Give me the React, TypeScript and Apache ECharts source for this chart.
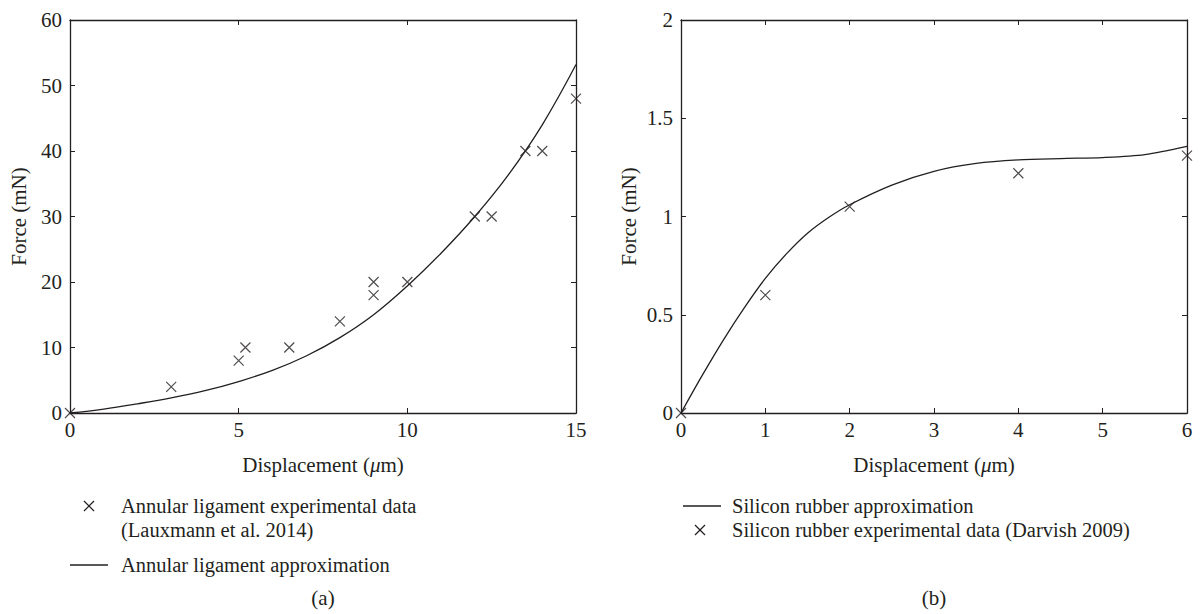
import React, { useEffect, useRef } from "react";
import * as echarts from "echarts";

// Panel (a): annular ligament
const ligamentExperimental: [number, number][] = [
  [0, 0], [3, 4], [5, 8], [5.2, 10], [6.5, 10], [8, 14], [9, 18], [9, 20],
  [10, 20], [12, 30], [12.5, 30], [13.5, 40], [14, 40], [15, 48],
];
const ligamentApproximation: [number, number][] = [
  [0, 0], [1, 0.6], [2, 1.4], [3, 2.3], [4, 3.4], [5, 4.8], [6, 6.5], [7, 8.7],
  [8, 11.5], [9, 15.0], [10, 19.4], [11, 24.4], [12, 30.0], [13, 36.4],
  [14, 44.0], [15, 53.2],
];

// Panel (b): silicon rubber
const rubberExperimental: [number, number][] = [
  [0, 0], [1, 0.6], [2, 1.05], [4, 1.22], [6, 1.31],
];
const rubberApproximation: [number, number][] = [
  [0, 0], [0.25, 0.19], [0.5, 0.37], [0.75, 0.535], [1, 0.685], [1.25, 0.81],
  [1.5, 0.915], [1.75, 0.995], [2, 1.06], [2.5, 1.16], [3, 1.23], [3.5, 1.27],
  [4, 1.288], [4.5, 1.295], [5, 1.30], [5.5, 1.315], [6, 1.357],
];

const xLabel = "Displacement";
const yLabel = "Force (mN)";
const legendA = [
  "Annular ligament experimental data",
  "(Lauxmann et al. 2014)",
  "Annular ligament approximation",
];
const legendB = [
  "Silicon rubber approximation",
  "Silicon rubber experimental data (Darvish 2009)",
];

const INK = "#231f20";
const FONT = "'Liberation Serif', 'DejaVu Serif', serif";
const FS = 21;
const LFS = 20.5;
const CROSS = "path://M0,0L10,10M10,0L0,10";

function App() {
  const ref = useRef<HTMLDivElement>(null);

  useEffect(() => {
    if (!ref.current) return;
    const chart = echarts.init(ref.current, null, { renderer: "svg" });

    const grids = [
      { left: 70, top: 20, width: 506, height: 393 },
      { left: 681, top: 20, width: 506, height: 393 },
    ];

    const tick = { show: true, inside: true, length: 5, lineStyle: { color: INK, width: 1 } };
    const line = { show: true, onZero: false, lineStyle: { color: INK, width: 1.3 } };
    const label = { color: INK, fontSize: FS, fontFamily: FONT, margin: 8 };
    const nameStyle = {
      color: INK, fontSize: FS, fontFamily: FONT,
      rich: { i: { fontStyle: "italic", color: INK, fontSize: FS, fontFamily: FONT } },
    };

    const xRanges = [
      { max: 15, interval: 5 },
      { max: 6, interval: 1 },
    ];
    const yRanges = [
      { max: 60, interval: 10 },
      { max: 2, interval: 0.5 },
    ];

    const xAxis: any[] = [];
    const yAxis: any[] = [];
    [0, 1].forEach((g) => {
      xAxis.push({
        type: "value", gridIndex: g, min: 0, max: xRanges[g].max, interval: xRanges[g].interval,
        position: "bottom", axisLine: line, axisTick: tick, axisLabel: { ...label, margin: 6 },
        splitLine: { show: false },
        name: xLabel + " ({i|\u03bc}m)", nameLocation: "middle", nameGap: 41, nameTextStyle: nameStyle,
      });
      xAxis.push({
        type: "value", gridIndex: g, min: 0, max: xRanges[g].max, interval: xRanges[g].interval,
        position: "top", axisLine: line, axisTick: tick, axisLabel: { show: false },
        splitLine: { show: false },
      });
      yAxis.push({
        type: "value", gridIndex: g, min: 0, max: yRanges[g].max, interval: yRanges[g].interval,
        position: "left", axisLine: line, axisTick: tick, axisLabel: label,
        splitLine: { show: false },
        name: yLabel, nameLocation: "middle", nameGap: g === 0 ? 41 : 42, nameRotate: 90,
        nameTextStyle: nameStyle,
      });
      yAxis.push({
        type: "value", gridIndex: g, min: 0, max: yRanges[g].max, interval: yRanges[g].interval,
        position: "right", axisLine: line, axisTick: tick, axisLabel: { show: false },
        splitLine: { show: false },
      });
    });

    const scatterStyle = { color: "none", borderColor: INK, borderWidth: 1.2 };
    const curveStyle = { color: INK, width: 1.3 };

    const series: any[] = [
      {
        name: legendA[0], type: "scatter", xAxisIndex: 0, yAxisIndex: 0,
        data: ligamentExperimental, symbol: CROSS, symbolSize: 10, itemStyle: scatterStyle, z: 3,
      },
      {
        name: legendA[2], type: "line", xAxisIndex: 0, yAxisIndex: 0,
        data: ligamentApproximation, smooth: 0.4, symbol: "none", lineStyle: curveStyle, z: 2,
      },
      {
        name: legendB[0], type: "line", xAxisIndex: 2, yAxisIndex: 2,
        data: rubberApproximation, smooth: 0.3, symbol: "none", lineStyle: curveStyle, z: 2,
      },
      {
        name: legendB[1], type: "scatter", xAxisIndex: 2, yAxisIndex: 2,
        data: rubberExperimental, symbol: CROSS, symbolSize: 10, itemStyle: scatterStyle, z: 3,
      },
    ];

    const txt = (x: number, y: number, text: string, align = "left", size = LFS) => ({
      type: "text", x, y,
      style: {
        text, fill: INK, font: `${size}px ${FONT}`, align, verticalAlign: "middle",
      },
    });
    const cross = (cx: number, cy: number) => ({
      type: "group",
      children: [
        { type: "line", shape: { x1: cx - 5, y1: cy - 5, x2: cx + 5, y2: cy + 5 }, style: { stroke: INK, lineWidth: 1.2 } },
        { type: "line", shape: { x1: cx - 5, y1: cy + 5, x2: cx + 5, y2: cy - 5 }, style: { stroke: INK, lineWidth: 1.2 } },
      ],
    });
    const seg = (x1: number, x2: number, y: number) => ({
      type: "line", shape: { x1, y1: y, x2, y2: y }, style: { stroke: INK, lineWidth: 1.3 },
    });

    const graphic: any[] = [
      cross(89, 506), txt(121, 506, legendA[0]),
      txt(121, 530, legendA[1]),
      seg(70, 108, 565), txt(121, 565, legendA[2]),
      txt(323, 598, "(a)", "center", FS),
      seg(683, 721, 506), txt(732, 506, legendB[0]),
      cross(700, 530), txt(732, 530, legendB[1]),
      txt(934, 598, "(b)", "center", FS),
    ];

    chart.setOption({
      animation: false,
      backgroundColor: "#ffffff",
      grid: grids,
      xAxis,
      yAxis,
      series,
      graphic,
    });

    return () => chart.dispose();
  }, []);

  return (
    <div
      ref={ref}
      style={{ position: "fixed", left: 0, top: 0, width: 1200, height: 614, background: "#fff" }}
    />
  );
}

export default App;
